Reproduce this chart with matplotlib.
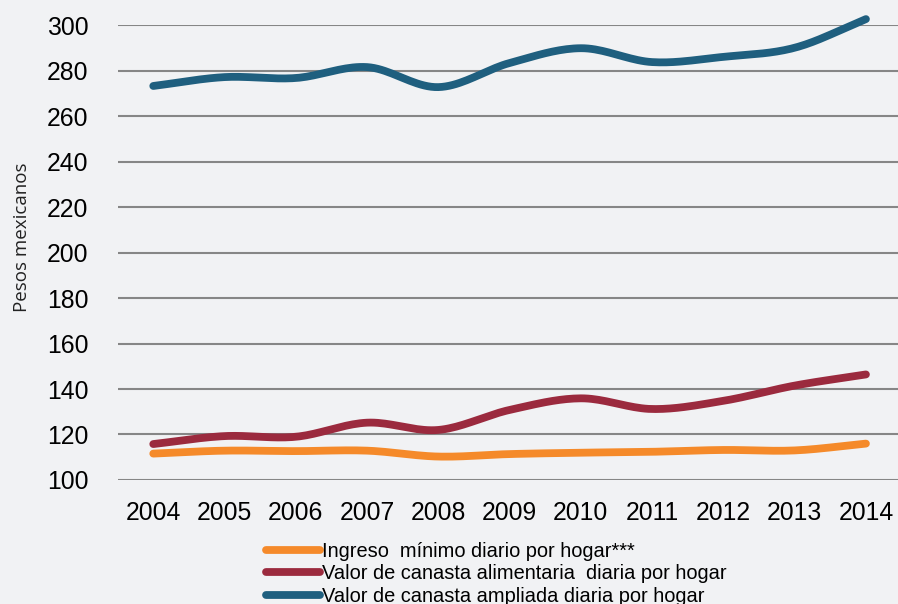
import numpy as np
import matplotlib
matplotlib.use("Agg")
import matplotlib.pyplot as plt

# Data
years = ["2004", "2005", "2006", "2007", "2008", "2009", "2010", "2011", "2012", "2013", "2014"]
ingreso_minimo = [111.6, 112.9, 112.7, 112.9, 110.3, 111.4, 112.0, 112.4, 113.2, 113.0, 116.0]
canasta_alimentaria = [115.8, 119.3, 119.0, 125.2, 122.0, 130.8, 135.9, 131.2, 134.8, 141.5, 146.4]
canasta_ampliada = [273.2, 277.1, 276.7, 281.5, 272.7, 283.3, 289.8, 283.7, 286.0, 290.0, 302.6]

labels = ["Ingreso  mínimo diario por hogar***",
          "Valor de canasta alimentaria  diaria por hogar",
          "Valor de canasta ampliada diaria por hogar"]
colors = ["#F58A2A", "#9B2A3E", "#1F5F7F"]

bg = "#F1F2F4"
plt.rcParams["font.family"] = ["Liberation Sans", "DejaVu Sans"]


def smooth(xs, ys, n=20):
    # Catmull-Rom curve through the points, like a "smoothed line" chart
    xs = np.asarray(xs, float)
    ys = np.asarray(ys, float)
    px = np.concatenate([[2 * xs[0] - xs[1]], xs, [2 * xs[-1] - xs[-2]]])
    py = np.concatenate([[2 * ys[0] - ys[1]], ys, [2 * ys[-1] - ys[-2]]])
    outx, outy = [], []
    t = np.linspace(0, 1, n, endpoint=False)
    for i in range(1, len(px) - 2):
        for p, out in ((px, outx), (py, outy)):
            p0, p1, p2, p3 = p[i - 1], p[i], p[i + 1], p[i + 2]
            out.extend(0.5 * (2 * p1 + (-p0 + p2) * t
                              + (2 * p0 - 5 * p1 + 4 * p2 - p3) * t ** 2
                              + (-p0 + 3 * p1 - 3 * p2 + p3) * t ** 3))
    outx.append(xs[-1])
    outy.append(ys[-1])
    return np.array(outx), np.array(outy)


fig = plt.figure(figsize=(8.98, 6.04), dpi=100, facecolor=bg)
ax = fig.add_axes([0.131, 0.2053, 0.869, 0.7533], facecolor=bg)

x = np.arange(len(years))
for series, lab, col in zip([ingreso_minimo, canasta_alimentaria, canasta_ampliada], labels, colors):
    sx, sy = smooth(x, series)
    ax.plot(sx, sy, color=col, lw=5.6, solid_capstyle="round", label=lab, clip_on=False, zorder=3)

ax.set_xlim(-0.5, 10.45)
ax.set_ylim(100, 300)
ax.set_yticks(np.arange(100, 301, 20))
ax.set_xticks(x)
ax.set_xticklabels(years)
ax.grid(axis="y", color="#868686", lw=1.5)
ax.set_axisbelow(True)
for s in ax.spines.values():
    s.set_visible(False)
ax.tick_params(axis="both", length=0, labelsize=17.8, colors="black")
ax.tick_params(axis="x", pad=15)
ax.tick_params(axis="y", pad=21)

fig.text(22 / 898, 1 - 237 / 604, "Pesos mexicanos", rotation=90, ha="center", va="center",
         fontsize=13.5, family=["Open Sans", "DejaVu Sans"], color="#222222")

fig.legend(loc="upper left", bbox_to_anchor=(266 / 898, 1 - 542 / 604), frameon=False,
           fontsize=14.4, handlelength=2.7, handletextpad=0.1, labelspacing=0.17,
           borderpad=0, borderaxespad=0)

fig.savefig("out.png", dpi=100, facecolor=bg)
